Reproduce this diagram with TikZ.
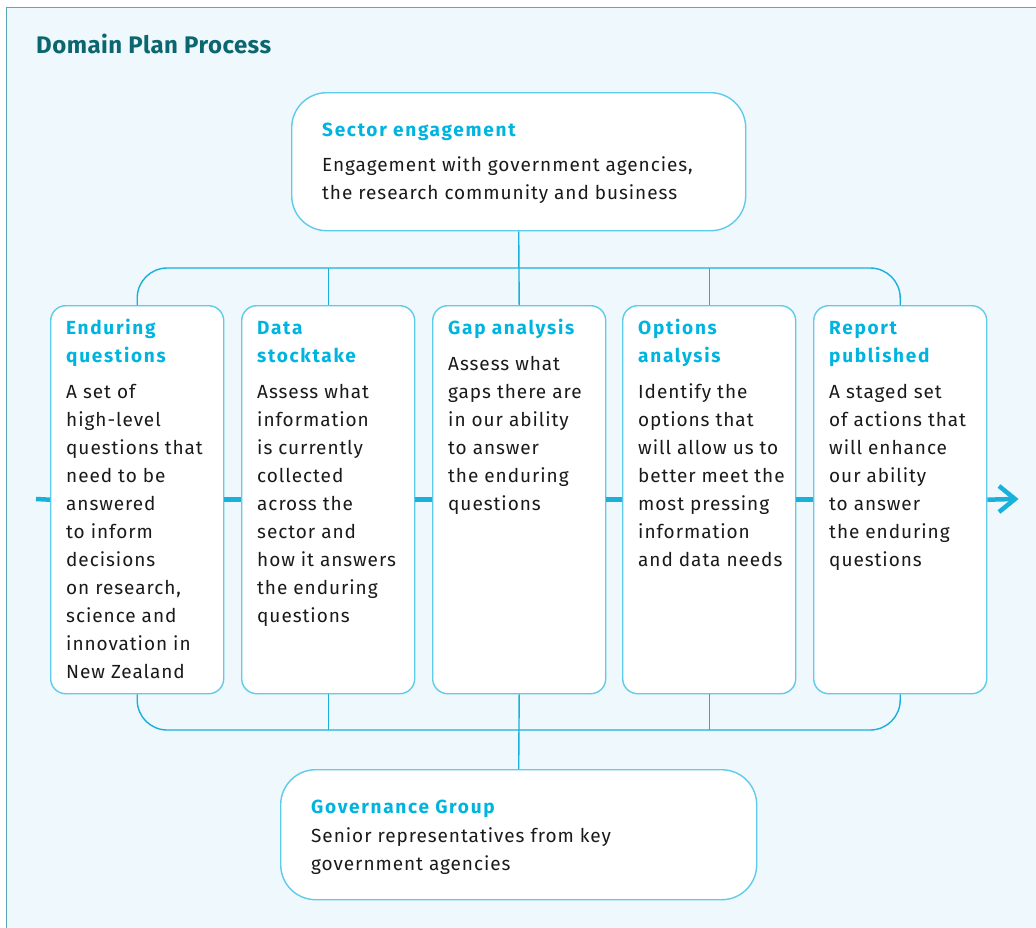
\documentclass[tikz,border=0pt]{standalone}
\usepackage{fontspec}
\setmainfont{Fira Sans}[LetterSpace=5]
\newfontfamily\headfont{Fira Sans}[LetterSpace=9]
\newfontfamily\titlefont{Fira Sans}[LetterSpace=2]
\usetikzlibrary{arrows.meta,calc}
\definecolor{bgc}{HTML}{EFF8FC}
\definecolor{framec}{HTML}{5BA9B8}
\definecolor{titlec}{HTML}{0B6670}
\definecolor{headc}{HTML}{00B4E0}
\definecolor{boxc}{HTML}{5FCBEA}
\definecolor{connc}{HTML}{1AB0DC}
\definecolor{bodyc}{HTML}{1A1A1A}
\tikzset{
  box/.style={draw=boxc, line width=1.4pt, fill=white, rounded corners=15pt, inner sep=0pt},
  bigbox/.style={draw=boxc, line width=1.4pt, fill=white, rounded corners=35pt, inner sep=0pt},
  conn/.style={draw=connc, line width=1.4pt},
  flow/.style={draw=connc, line width=4.5pt},
  head/.style={anchor=base west, inner sep=0pt, align=left, text=headc, font=\fontsize{19}{28}\selectfont\headfont\bfseries},
  body/.style={anchor=base west, inner sep=0pt, align=left, text=bodyc, font=\fontsize{19}{28}\selectfont},
}
\begin{document}
\begin{tikzpicture}[x=1pt,y=-1pt]
\useasboundingbox (0,0) rectangle (1036,927);
\fill[white] (0,0) rectangle (1036,927);
\fill[bgc] (6.5,7.5) rectangle (1040,930);
\draw[framec, line width=1.2pt] (6.5,930) -- (6.5,7.5) -- (1040,7.5);
\node[anchor=base west, inner sep=0pt, text=titlec, font=\fontsize{24}{28}\selectfont\titlefont\bfseries] (title) at (36,53) {Domain Plan Process};

\coordinate (tl) at (0,268);
\coordinate (bl) at (0,730);

\node[bigbox, minimum width=454pt, minimum height=138pt, anchor=north west] (sector) at (291,92) {};
\node[bigbox, minimum width=476pt, minimum height=130pt, anchor=north west] (gov) at (280,769) {};
\foreach \i/\x in {1/50,2/241,3/432,4/622,5/813}{
  \node[box, minimum width=173pt, minimum height=388pt, anchor=north west] (b\i) at (\x,305) {};
}
\coordinate (start) at (36,499);
\coordinate (end) at (1014,499);

\draw[conn, rounded corners=30pt] (b1.north) -- (b1.north |- tl) -- (b5.north |- tl) -- (b5.north);
\draw[conn] (b2.north) -- (b2.north |- tl);
\draw[conn] (b4.north) -- (b4.north |- tl);
\draw[conn] (sector.south) -- (b3.north);
\draw[conn, rounded corners=30pt] (b1.south) -- (b1.south |- bl) -- (b5.south |- bl) -- (b5.south);
\draw[conn] (b2.south) -- (b2.south |- bl);
\draw[conn] (b4.south) -- (b4.south |- bl);
\draw[conn] (b3.south) -- (gov.north);

\draw[flow] (start) -- (b1.west);
\draw[flow] (b1.east) -- (b2.west);
\draw[flow] (b2.east) -- (b3.west);
\draw[flow] (b3.east) -- (b4.west);
\draw[flow] (b4.east) -- (b5.west);
\draw[flow] (b5.east) -- (end);
\draw[flow, miter limit=10] ($(end)+(-15,-13)$) -- ($(end)+(1,0)$) -- ($(end)+(-15,13)$);

% texts (base anchor = baseline of last line)
\node[head] (sh) at (322,136) {Sector engagement};
\node[body] (sb) at (322,199) {Engagement with government agencies,\\the research community and business};

\node[head] (gh) at (311,813) {Governance Group};
\node[body] (gb) at (311,870) {Senior representatives from key\\government agencies};

\node[head] (h1) at (66,362) {Enduring\\questions};
\node[body] (t1) at (66,678) {A set of\\high-level\\questions that\\need to be\\answered\\to inform\\decisions\\on research,\\science and\\innovation in\\New Zealand};

\node[head] (h2) at (257,362) {Data\\stocktake};
\node[body] (t2) at (257,622) {Assess what\\information\\is currently\\collected\\across the\\sector and\\how it answers\\the enduring\\questions};

\node[head] (h3) at (448,334) {Gap analysis};
\node[body] (t3) at (448,510) {Assess what\\gaps there are\\in our ability\\to answer\\the enduring\\questions};

\node[head] (h4) at (638,362) {Options\\analysis};
\node[body] (t4) at (638,566) {Identify the\\options that\\will allow us to\\better meet the\\most pressing\\information\\and data needs};

\node[head] (h5) at (829,362) {Report\\published};
\node[body] (t5) at (829,566) {A staged set\\of actions that\\will enhance\\our ability\\to answer\\the enduring\\questions};
\end{tikzpicture}
\end{document}
